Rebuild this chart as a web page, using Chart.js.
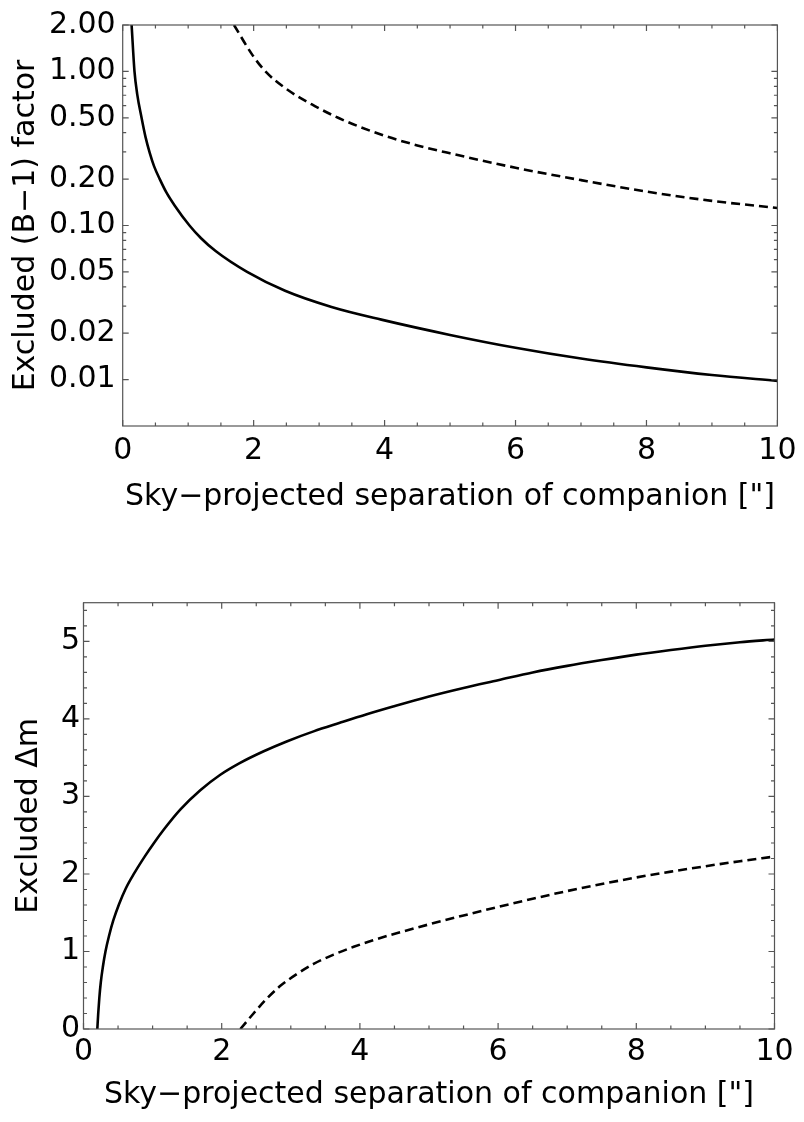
<!DOCTYPE html>
<html>
<head>
<meta charset="utf-8">
<title>Excluded companion limits</title>
<script src="https://cdn.jsdelivr.net/npm/chart.js@4.4.1/dist/chart.umd.min.js"></script>
<style>
  html, body { margin: 0; padding: 0; background: #fff; }
  #wrap { position: relative; width: 804px; height: 1122px; }
  canvas { position: absolute; left: 0; }
  #chart-top { top: 0; }
  #chart-bottom { top: 560px; }
</style>
</head>
<body>
<div id="wrap">
  <canvas id="chart-top" width="804" height="540"></canvas>
  <canvas id="chart-bottom" width="804" height="562"></canvas>
</div>
<script>
// ---- upper panel: excluded (B-1) factor vs separation ----
const bSolidSep = [0.136, 0.18, 0.222, 0.288, 0.348, 0.414, 0.48, 0.566, 0.667, 0.793, 1.02, 1.197, 1.424, 1.90, 2.48, 3.19, 3.95, 5.0, 6.0, 7.0, 8.0, 9.0, 10.0];
const bSolidVal = [2.0, 1.0, 0.71, 0.5, 0.376, 0.295, 0.242, 0.2, 0.164, 0.135, 0.1, 0.0827, 0.068, 0.05, 0.0377, 0.0296, 0.0245, 0.0195, 0.0161, 0.0137, 0.0120, 0.0107, 0.0098];
const bDashSep  = [1.70, 1.98, 2.18, 2.48, 2.89, 3.29, 3.90, 4.50, 5.0, 6.0, 7.0, 8.0, 9.0, 10.0];
const bDashVal  = [2.0, 1.28, 1.0, 0.78, 0.61, 0.5, 0.395, 0.331, 0.294, 0.237, 0.197, 0.166, 0.1445, 0.130];

// ---- lower panel: excluded delta-m vs separation ----
const mSolidSep = [0.20, 0.213, 0.229, 0.250, 0.280, 0.318, 0.369, 0.431, 0.514, 0.61, 0.735, 0.89, 1.02, 1.16, 1.40, 1.69, 1.98, 2.26, 2.60, 2.94, 3.33, 3.71, 4.10, 4.48, 5.0, 5.5, 6.0, 6.5, 7.0, 7.5, 8.0, 8.5, 9.0, 9.5, 10.0];
const mSolidVal = [0, 0.20, 0.40, 0.60, 0.80, 1.00, 1.20, 1.40, 1.61, 1.81, 2.01, 2.23, 2.40, 2.57, 2.83, 3.08, 3.28, 3.43, 3.58, 3.71, 3.84, 3.95, 4.06, 4.16, 4.29, 4.40, 4.50, 4.60, 4.685, 4.76, 4.83, 4.89, 4.945, 4.99, 5.025];
const mDashSep  = [2.27, 2.46, 2.65, 2.84, 3.09, 3.33, 3.62, 3.91, 4.19, 4.53, 5.0, 5.5, 6.0, 6.5, 7.0, 7.5, 8.0, 8.5, 9.0, 9.5, 10.0];
const mDashVal  = [0, 0.20, 0.39, 0.55, 0.71, 0.84, 0.96, 1.06, 1.145, 1.235, 1.35, 1.465, 1.575, 1.68, 1.78, 1.87, 1.955, 2.03, 2.10, 2.165, 2.225];

// ---- ticks ----
const sepMajor    = [0, 2, 4, 6, 8, 10];
const sepMinor    = [0.5, 1, 1.5, 2.5, 3, 3.5, 4.5, 5, 5.5, 6.5, 7, 7.5, 8.5, 9, 9.5];
const factorMajor = [0.01, 0.02, 0.05, 0.1, 0.2, 0.5, 1, 2];
const factorMinor = [0.03, 0.04, 0.06, 0.07, 0.08, 0.09, 0.3, 0.4, 0.6, 0.7, 0.8, 0.9];
const dmMajor     = [0, 1, 2, 3, 4, 5];
const dmMinor     = [0.2, 0.4, 0.6, 0.8, 1.2, 1.4, 1.6, 1.8, 2.2, 2.4, 2.6, 2.8, 3.2, 3.4, 3.6, 3.8, 4.2, 4.4, 4.6, 4.8, 5.2, 5.4];

const SEP_TITLE = 'Sky\u2212projected separation of companion ["]';
const FONT = "'DejaVu Sans', 'Liberation Sans', Arial, sans-serif";

function series(xs, ys) {
    return xs.map((x, i) => ({ x: x, y: ys[i] }));
}

function curve(xs, ys, dashed) {
    return {
        data: series(xs, ys),
        borderColor: '#000',
        borderWidth: 2.6,
        borderDash: dashed ? [9, 5] : [],
        pointRadius: 0,
        fill: false,
        cubicInterpolationMode: 'monotone',
        clip: 0
    };
}

const setTicks = vals => scale => { scale.ticks = vals.map(v => ({ value: v })); };

/* Frame round the plot area with inward ticks on all four sides */
const frameTicks = {
    id: 'frameTicks',
    afterDraw(chart, args, opts) {
        const { ctx, chartArea: a, scales } = chart;
        ctx.save();
        ctx.strokeStyle = opts.color;
        ctx.lineWidth = 1.2;
        const mark = (vals, len, scale, horizontal) => {
            vals.forEach(v => {
                const p = scale.getPixelForValue(v);
                ctx.beginPath();
                if (horizontal) {
                    ctx.moveTo(p, a.bottom); ctx.lineTo(p, a.bottom - len);
                    ctx.moveTo(p, a.top);    ctx.lineTo(p, a.top + len);
                } else {
                    ctx.moveTo(a.left, p);  ctx.lineTo(a.left + len, p);
                    ctx.moveTo(a.right, p); ctx.lineTo(a.right - len, p);
                }
                ctx.stroke();
            });
        };
        mark(opts.xMajor, 6, scales.x, true);
        mark(opts.xMinor, 3.5, scales.x, true);
        mark(opts.yMajor, 6, scales.y, false);
        mark(opts.yMinor, 3.5, scales.y, false);
        ctx.strokeRect(a.left, a.top, a.right - a.left, a.bottom - a.top);
        ctx.restore();
    }
};

function panel(id, o) {
    const tickFont = { family: FONT, size: o.fontSize };
    return new Chart(document.getElementById(id), {
        type: 'line',
        data: { datasets: o.datasets },
        plugins: [frameTicks],
        options: {
            responsive: false,
            animation: false,
            devicePixelRatio: 1,
            layout: { padding: o.padding },
            plugins: {
                legend: { display: false },
                tooltip: { enabled: false },
                frameTicks: { color: '#555', xMajor: sepMajor, xMinor: sepMinor, yMajor: o.yMajor, yMinor: o.yMinor }
            },
            scales: {
                x: {
                    type: 'linear', min: 0, max: 10,
                    afterBuildTicks: setTicks(sepMajor),
                    afterFit: s => { s.height = o.xHeight; },
                    grid: { display: false, drawTicks: false },
                    border: { display: false },
                    ticks: { font: tickFont, color: '#000', padding: o.xTickPad, maxRotation: 0, autoSkip: false },
                    title: { display: true, text: SEP_TITLE, color: '#000', font: tickFont, padding: { top: 0, bottom: o.xTitlePad } }
                },
                y: {
                    type: o.yType, min: o.yMin, max: o.yMax,
                    afterBuildTicks: setTicks(o.yMajor),
                    afterFit: s => { s.width = o.yWidth; },
                    grid: { display: false, drawTicks: false },
                    border: { display: false },
                    ticks: { font: tickFont, color: '#000', padding: o.yTickPad, autoSkip: false, callback: o.yFormat },
                    title: { display: true, text: o.yTitle, color: '#000', font: tickFont, padding: { top: o.yTitlePad, bottom: 0 } }
                }
            }
        }
    });
}

panel('chart-top', {
    datasets: [curve(bSolidSep, bSolidVal, false), curve(bDashSep, bDashVal, true)],
    fontSize: 30,
    padding: { top: 17.7, right: 22, bottom: 0, left: 0 },
    xHeight: 114, xTickPad: 7.5, xTitlePad: 25,
    yType: 'logarithmic', yMin: 0.005, yMax: 2,
    yMajor: factorMajor, yMinor: factorMinor,
    yWidth: 122.7, yTickPad: 7, yTitlePad: 8.5,
    yTitle: 'Excluded (B\u22121) factor',
    yFormat: v => Number(v).toFixed(2)
});

panel('chart-bottom', {
    datasets: [curve(mSolidSep, mSolidVal, false), curve(mDashSep, mDashVal, true)],
    fontSize: 30,
    padding: { top: 42.7, right: 29.5, bottom: 0, left: 0 },
    xHeight: 93, xTickPad: 5, xTitlePad: 9,
    yType: 'linear', yMin: 0, yMax: 5.5,
    yMajor: dmMajor, yMinor: dmMinor,
    yWidth: 83.5, yTickPad: 3.5, yTitlePad: 11,
    yTitle: 'Excluded \u0394m',
    yFormat: v => String(v)
});
</script>
</body>
</html>
